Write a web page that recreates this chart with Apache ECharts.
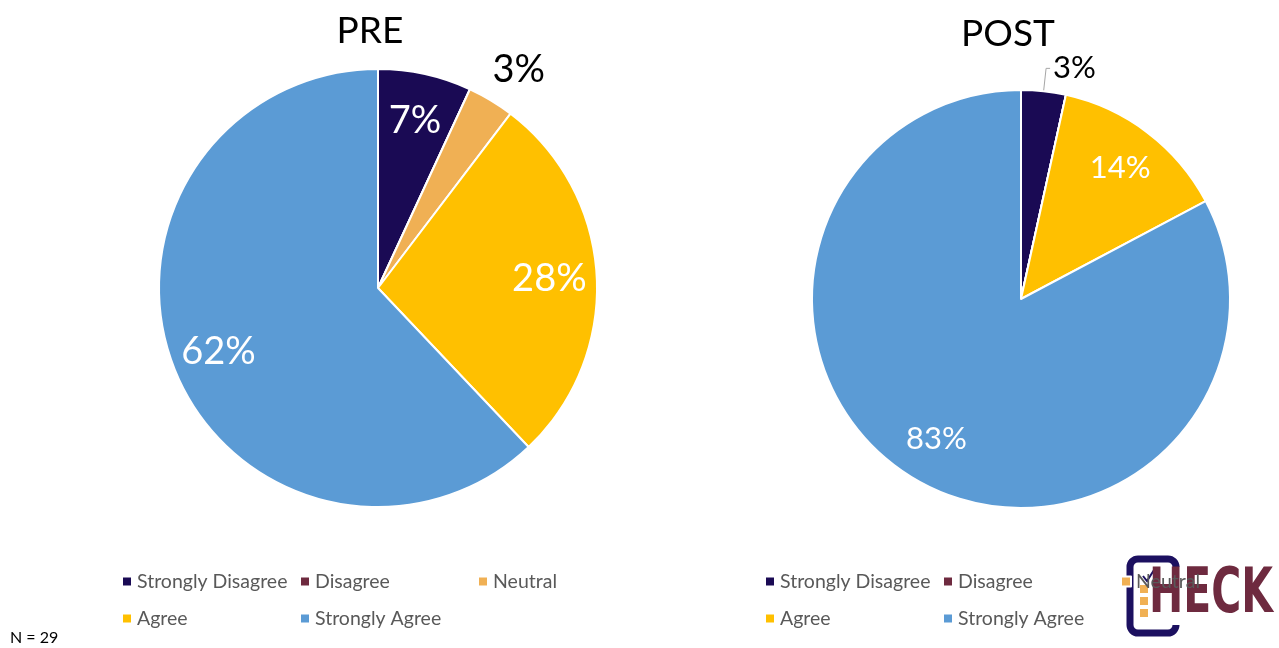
<!DOCTYPE html>
<html><head><meta charset="utf-8">
<script src="https://cdn.jsdelivr.net/npm/echarts/dist/echarts.min.js"></script>
<style>html,body{margin:0;padding:0;background:#fff}#c{width:1279px;height:648px}</style>
</head><body><div id="c"></div>
<script>
// ---- data ----
const categories = ['Strongly Disagree', 'Disagree', 'Neutral', 'Agree', 'Strongly Agree'];
const preValues = [2, 0, 1, 8, 18];
const postValues = [1, 0, 0, 4, 24];
const chartTitles = ['PRE', 'POST'];
const sampleNote = 'N = 29';
const logoWord = 'HECK';

// ---- style ----
const colors = ['#1a0a54', '#6e2a3f', '#f0b054', '#ffc000', '#5b9bd5'];
const FONT = 'Lato, "Open Sans", sans-serif';

function pct(p) { return Math.round(p.percent) + '%'; }

function mainPie(values, center, r, lineIdx, fs) {
  return {
    type: 'pie', center: center, radius: r, startAngle: 90, clockwise: true,
    animation: false, emphasis: { disabled: true },
    avoidLabelOverlap: false,
    itemStyle: { borderColor: '#fff', borderWidth: 2 },
    label: { show: false }, labelLine: { show: false },
    data: categories.map(function (name, i) {
      const d = { name: name, value: values[i], itemStyle: { color: colors[i] } };
      if (lineIdx === i) {
        d.label = { show: true, position: 'outside', formatter: pct, color: '#000',
          fontSize: fs, fontFamily: FONT, distanceToLabelLine: 3 };
        d.labelLine = { show: true, length: 23, length2: 4, smooth: false,
          lineStyle: { color: '#a6a6a6', width: 1 } };
      }
      return d;
    })
  };
}

function labelPie(values, center, r0, r1, idxs, color, fs, offset) {
  return {
    type: 'pie', center: center, radius: [r0, r1], startAngle: 90, clockwise: true,
    silent: true, animation: false, legendHoverLink: false, emphasis: { disabled: true },
    avoidLabelOverlap: false,
    itemStyle: { color: 'rgba(0,0,0,0)', borderWidth: 0 },
    label: { show: false }, labelLine: { show: false },
    data: categories.map(function (name, i) {
      return { name: name, value: values[i],
        label: { show: idxs.indexOf(i) >= 0 && values[i] > 0, position: 'inside',
          formatter: pct, color: color, fontSize: fs, fontFamily: FONT, offset: offset || [0, 0] } };
    })
  };
}

function legendAt(left) {
  return {
    data: categories, left: left, top: 568, width: 540, padding: 0,
    itemWidth: 10, itemHeight: 10, itemGap: 10, icon: 'rect', selectedMode: false,
    textStyle: { color: '#595959', fontSize: 19.5, fontFamily: FONT, width: 152, lineHeight: 27 }
  };
}

const preC = [378, 288], preR = 219;
const postC = [1021, 299], postR = 209;

const option = {
  backgroundColor: '#fff',
  animation: false,
  legend: [legendAt(121), legendAt(764)],
  series: [
    mainPie(preValues, preC, preR, -1, 38),
    mainPie(postValues, postC, postR, 0, 31),
    labelPie(preValues, preC, preR * 0.54, preR, [0, 3, 4], '#fff', 38),
    labelPie(preValues, preC, preR, preR * 1.36, [2], '#000', 38, [6, 6]),
    labelPie(postValues, postC, postR * 0.54, postR, [3, 4], '#fff', 31)
  ],
  graphic: [
    { type: 'text', x: 370, y: 31, style: { text: chartTitles[0], font: '37px ' + FONT, fill: '#000', align: 'center', verticalAlign: 'middle' } },
    { type: 'text', x: 1008, y: 34, style: { text: chartTitles[1], font: '37px ' + FONT, fill: '#000', align: 'center', verticalAlign: 'middle' } },
    { type: 'text', x: 10, y: 638, style: { text: sampleNote, font: '16px ' + FONT, fill: '#000', align: 'left', verticalAlign: 'middle' } },
    // logo
    { type: 'group', z: 1, children: [
      { type: 'rect', shape: { x: 1130, y: 559, width: 46, height: 74, r: 8 }, style: { fill: 'none', stroke: '#1c1060', lineWidth: 7 } },
      { type: 'rect', shape: { x: 1170, y: 567, width: 12, height: 58 }, style: { fill: '#fff' } },
      { type: 'rect', shape: { x: 1140, y: 585, width: 8, height: 8 }, style: { fill: '#f0b054' } },
      { type: 'rect', shape: { x: 1140, y: 597, width: 8, height: 8 }, style: { fill: '#f0b054' } },
      { type: 'rect', shape: { x: 1140, y: 609, width: 8, height: 8 }, style: { fill: '#f0b054' } },
      { type: 'polyline', shape: { points: [[1143, 576], [1147, 581], [1154, 570]] }, style: { stroke: '#1c1060', lineWidth: 2, fill: 'none' } },
      { type: 'text', x: 1149, y: 596, scaleX: 0.66, style: { text: logoWord, font: 'bold 62px "DejaVu Sans", sans-serif', fill: '#6e2a3f', align: 'left', verticalAlign: 'middle' } }
    ] }
  ]
};

const chart = echarts.init(document.getElementById('c'), null, { renderer: 'canvas' });
chart.setOption(option);
</script>
</body></html>
